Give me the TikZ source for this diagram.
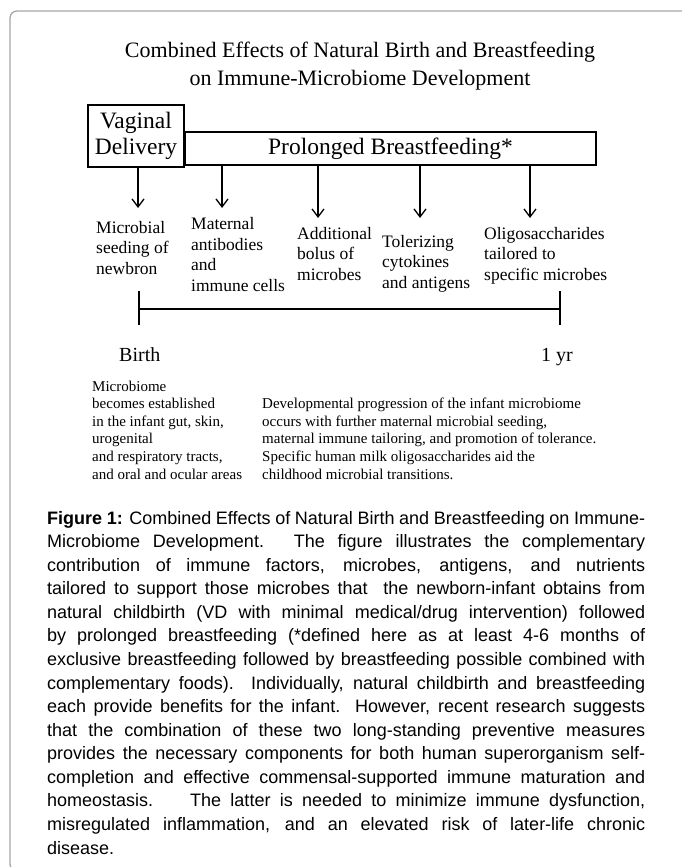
\documentclass[tikz,border=0pt]{standalone}
\usepackage{fontspec}
\setmainfont{Liberation Serif}
\newfontfamily\capfont{Liberation Sans}
\usetikzlibrary{arrows.meta}

\begin{document}
\begin{tikzpicture}[x=1pt,y=-1pt,
    frame/.style={draw=black!35,line width=1.3pt,rounded corners=7pt},
    box/.style={draw,line width=1.1pt,inner sep=0pt,align=center,font=\fontsize{23.5}{26}\selectfont},
    pointer/.style={line width=1.3pt,-{Straight Barb[length=8pt,width=12pt,line width=1.3pt]}},
    lbl/.style={anchor=base west,align=left,inner sep=0pt,font=\fontsize{17.5}{20.5}\selectfont},
    note/.style={anchor=base west,align=left,inner sep=0pt,font=\fontsize{15}{17.6}\selectfont}]

    \useasboundingbox (0,0) rectangle (681,867);
    \draw[frame] (690,11) -- (10,11) -- (10,871) -- (690,871);

    % title (multi-line nodes sit on the base of their last line)
    \node[anchor=base,align=center,inner sep=0pt,font=\fontsize{22}{28}\selectfont] (title) at (360,85)
        {Combined Effects of Natural Birth and Breastfeeding\\on Immune-Microbiome Development};

    % the two boxes
    \node[box,minimum width=411pt,minimum height=33pt] (pb) at (390.5,148.5) {Prolonged Breastfeeding*};
    \node[box,fill=white,minimum width=96pt,minimum height=62pt] (vd) at (136,136) {Vaginal\\Delivery};

    % arrows
    \coordinate (tip1) at (138,208);
    \draw[pointer] (vd.south -| tip1) -- (tip1);
    \foreach \x/\y [count=\i from 2] in {222/208,318/218,420/218,530/218}{
        \coordinate (tip\i) at (\x,\y);
        \draw[pointer] (pb.south -| tip\i) -- (tip\i);
    }

    \node[lbl] (seed) at (96,274) {Microbial\\seeding of\\newbron};
    \node[lbl] (abs) at (191,291) {Maternal\\antibodies\\and\\immune cells};
    \node[lbl] (bolus) at (297,280) {Additional\\bolus of\\microbes};
    \node[lbl] (tol) at (382,288) {Tolerizing\\cytokines\\and antigens};
    \node[lbl] (oligo) at (484,280) {Oligosaccharides\\tailored to\\specific microbes};

    % time line
    \coordinate (t0) at (139,309);
    \coordinate (t1) at (560,309);
    \draw[line width=2pt] (t0) -- (t1);
    \draw[line width=2pt] ([yshift=-16pt]t0) -- ([yshift=18pt]t0);
    \draw[line width=2pt] ([yshift=-16pt]t1) -- ([yshift=18pt]t1);

    \node[anchor=base west,inner sep=0pt,font=\fontsize{20}{24}\selectfont] (birth) at (119,361) {Birth};
    \node[anchor=base west,inner sep=0pt,font=\fontsize{20}{24}\selectfont] (oneyr) at (541,361) {1 yr};

    \node[note] (estab) at (92,479) {Microbiome\\becomes established\\in the infant gut, skin,\\urogenital\\and respiratory tracts,\\and oral and ocular areas};
    \node[note] (prog) at (262,479) {Developmental progression of the infant microbiome\\occurs with further maternal microbial seeding,\\maternal immune tailoring, and promotion of tolerance.\\Specific human milk oligosaccharides aid the\\childhood microbial transitions.};

    % caption
    \node[anchor=base west,align=left,inner sep=0pt,font=\capfont\fontsize{18}{23.57}\selectfont] (cap) at (47,854) {%
        \makebox[598pt][s]{\textbf{Figure 1:} Combined Effects of Natural Birth and Breastfeeding on Immune-}\\
        \makebox[598pt][s]{Microbiome Development. The figure illustrates the complementary}\\
        \makebox[598pt][s]{contribution of immune factors, microbes, antigens, and nutrients}\\
        \makebox[598pt][s]{tailored to support those microbes that\ \ the newborn-infant obtains from}\\
        \makebox[598pt][s]{natural childbirth (VD with minimal medical/drug intervention) followed}\\
        \makebox[598pt][s]{by prolonged breastfeeding (*defined here as at least 4-6 months of}\\
        \makebox[598pt][s]{exclusive breastfeeding followed by breastfeeding possible combined with}\\
        \makebox[598pt][s]{complementary foods).\ \ Individually, natural childbirth and breastfeeding}\\
        \makebox[598pt][s]{each provide benefits for the infant.\ \ However, recent research suggests}\\
        \makebox[598pt][s]{that the combination of these two long-standing preventive measures}\\
        \makebox[598pt][s]{provides the necessary components for both human superorganism self-}\\
        \makebox[598pt][s]{completion and effective commensal-supported immune maturation and}\\
        \makebox[598pt][s]{homeostasis.\ \ \ \ The latter is needed to minimize immune dysfunction,}\\
        \makebox[598pt][s]{misregulated inflammation, and an elevated risk of later-life chronic}\\
        disease.};

\end{tikzpicture}
\end{document}
